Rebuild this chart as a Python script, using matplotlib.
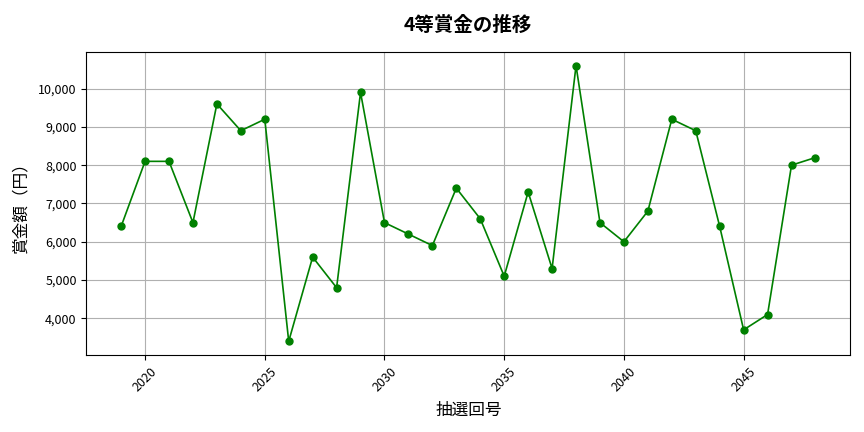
import matplotlib
matplotlib.use('Agg')
import matplotlib.pyplot as plt
from matplotlib.ticker import FuncFormatter

plt.rcParams['font.family'] = ['Noto Sans CJK JP', 'DejaVu Sans']

# 抽選回号と4等賞金
draws = list(range(2019, 2049))
prize = [6400, 8100, 8100, 6500, 9600, 8900, 9200, 3400, 5600, 4800,
         9900, 6500, 6200, 5900, 7400, 6600, 5100, 7300, 5300, 10600,
         6500, 6000, 6800, 9200, 8900, 6400, 3700, 4100, 8000, 8200]

fig, ax = plt.subplots(figsize=(8.64, 4.32), dpi=100)
ax.plot(draws, prize, marker='o', color='green', linewidth=1.2, markersize=5)
ax.set_title('4等賞金の推移', fontsize=14, fontweight='bold', pad=15)
ax.set_xlabel('抽選回号', fontsize=12, labelpad=6)
ax.set_ylabel('賞金額（円）', fontsize=12, labelpad=6)
ax.yaxis.set_major_formatter(FuncFormatter(lambda v, p: f'{int(v):,}'))
ax.tick_params(axis='x', labelrotation=45, labelsize=9)
ax.tick_params(axis='y', labelsize=9)
ax.grid(True)
plt.subplots_adjust(left=0.1, right=0.984, top=0.88, bottom=0.178)
plt.savefig('out.png')
